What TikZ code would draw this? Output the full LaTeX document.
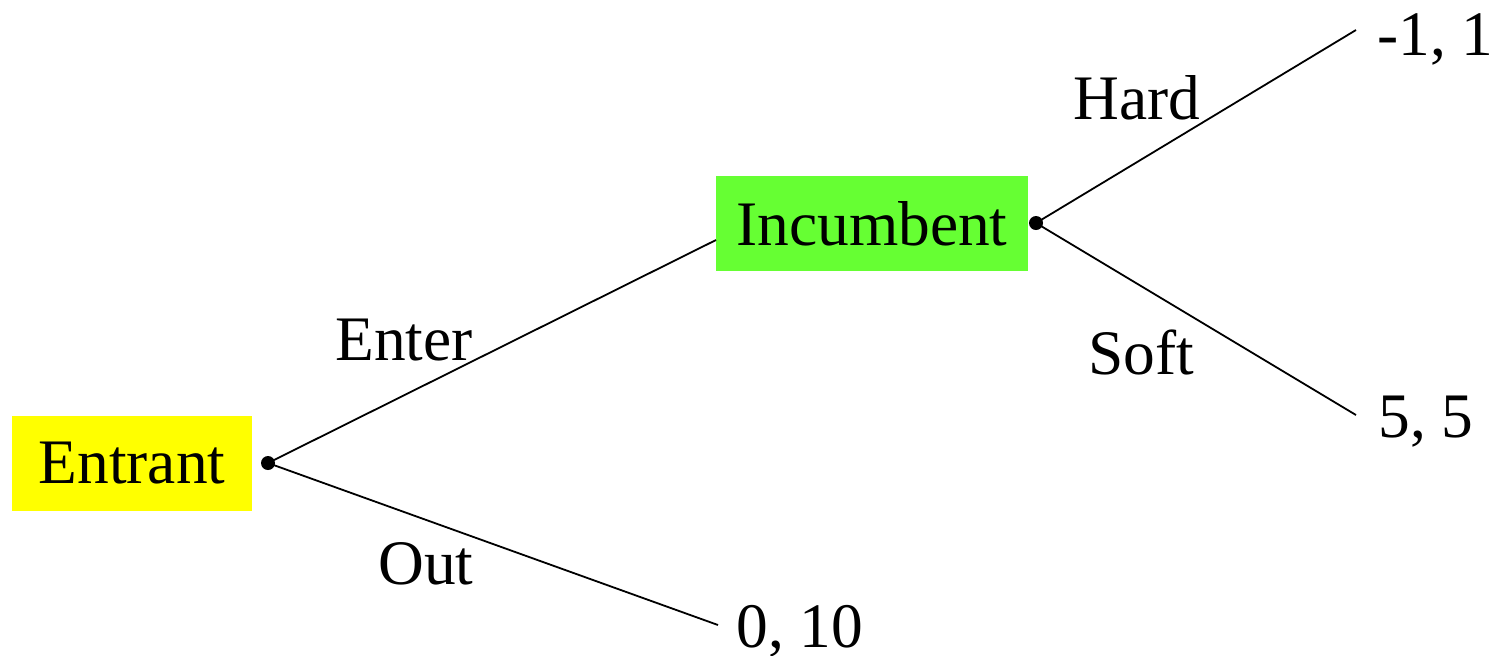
\documentclass[tikz,border=0pt]{standalone}
\usepackage{fontspec}
\setmainfont{Liberation Serif}
\definecolor{entrantfill}{HTML}{FFFF00}
\definecolor{incumbentfill}{HTML}{66FF33}
\begin{document}
\begin{tikzpicture}[x=0.5pt,y=-0.5pt,
  lbl/.style={font=\fontsize{31.7}{36}\selectfont, inner sep=0pt, anchor=base west},
  player/.style={font=\fontsize{31.7}{36}\selectfont, inner sep=0pt, minimum height=47.5pt},
  branch/.style={line width=0.9pt},
  decision/.style={circle, fill=black, inner sep=0pt, minimum size=7pt}]
\useasboundingbox (0,0) rectangle (1492,655);
% players
\node[player, fill=entrantfill, minimum width=120pt] (ent) at (132,463.5) {Entrant};
\node[player, fill=incumbentfill, minimum width=156pt] (inc) at (872,223.5) {Incumbent};
% decision points
\node[decision] (d1) at (268,463) {};
\node[decision] (d2) at (1036,223) {};
% branch ends
\coordinate (enterEnd) at (716,240);
\coordinate (outEnd) at (718,625);
\coordinate (hardEnd) at (1356,30);
\coordinate (softEnd) at (1356,415);
\draw[branch] (d1.center) -- (enterEnd);
\draw[branch] (d1.center) -- (outEnd);
\draw[branch] (d2.center) -- (hardEnd);
\draw[branch] (d2.center) -- (softEnd);
% action labels
\node[lbl] (lEnter) at (335,360) {Enter};
\node[lbl] (lOut) at (378,584) {Out};
\node[lbl] (lHard) at (1073,119) {Hard};
\node[lbl] (lSoft) at (1088,374) {Soft};
% payoffs
\node[lbl] (pHard) at (1377,55) {-1, 1};
\node[lbl] (pSoft) at (1378,437) {5, 5};
\node[lbl] (pOut) at (736,647) {0, 10};
\end{tikzpicture}
\end{document}
